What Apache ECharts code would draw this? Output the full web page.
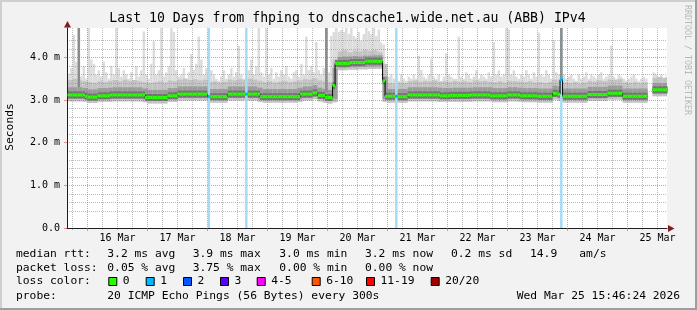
<!DOCTYPE html>
<html><head><meta charset="utf-8">
<script src="https://cdn.jsdelivr.net/npm/echarts@6/dist/echarts.min.js"></script>
<style>html,body{margin:0;padding:0;background:#f2f2f2}#c{width:697px;height:310px}</style>
</head><body><div id="c"></div>
<script>
// ---------------- data ----------------
const titleText = 'Last 10 Days from fhping to dnscache1.wide.net.au (ABB) IPv4';
const axisStartHour = 15.773333;   // hours since Mar 15 00:00 -> Mar 15 15:46:24
const axisEndHour = 255.773333;    // Mar 25 15:46:24
const yMax = 4.69;                 // ms
const firstHour = 16;              // first hourly sample (Mar 15 16:00)
const dayLabels = ['16 Mar','17 Mar','18 Mar','19 Mar','20 Mar','21 Mar','22 Mar','23 Mar','24 Mar','25 Mar'];
const dayLabelHours = [36,60,84,108,132,156,180,204,228,252];
const midnightHours = [24,48,72,96,120,144,168,192,216,240];
const sixHourTicks = [18,30,36,42,54,60,66,78,84,90,102,108,114,126,132,138,150,156,162,174,180,186,198,204,210,222,228,234,246,252];
const yMinorTicks = [0.2,0.4,0.6,0.8,1.2,1.4,1.6,1.8,2.2,2.4,2.6,2.8,3.2,3.4,3.6,3.8,4.2,4.4,4.6];

// hourly median rtt (ms)
const median = [
3.12,3.12,3.12,3.12,3.12,3.12,3.12,3.09,3.07,3.07,
3.07,3.07,3.10,3.10,3.10,3.10,3.10,3.12,3.12,3.12,
3.12,3.12,3.12,3.12,3.12,3.12,3.12,3.12,3.12,3.12,
3.12,3.06,3.06,3.06,3.06,3.06,3.06,3.06,3.06,3.06,
3.10,3.10,3.10,3.10,3.14,3.14,3.14,3.14,3.14,3.14,
3.14,3.14,3.14,3.14,3.14,3.14,3.08,3.08,3.08,3.08,
3.08,3.08,3.08,3.08,3.14,3.14,3.14,3.14,3.14,3.14,
3.14,3.14,3.14,3.14,3.14,3.14,3.14,3.08,3.08,3.08,
3.08,3.08,3.08,3.08,3.08,3.08,3.08,3.08,3.08,3.08,
3.08,3.08,3.08,3.14,3.14,3.14,3.14,3.14,3.17,3.17,
3.11,3.11,3.11,3.06,3.06,3.06,3.34,3.86,3.86,3.86,
3.86,3.86,3.86,3.88,3.88,3.88,3.88,3.88,3.88,3.91,
3.91,3.91,3.91,3.91,3.91,3.91,3.45,3.09,3.09,3.09,
3.09,3.09,3.08,3.08,3.08,3.08,3.12,3.12,3.12,3.12,
3.12,3.12,3.12,3.12,3.12,3.12,3.12,3.12,3.12,3.10,
3.10,3.10,3.10,3.11,3.11,3.11,3.11,3.11,3.11,3.11,
3.11,3.12,3.12,3.12,3.12,3.12,3.12,3.12,3.12,3.10,
3.10,3.10,3.10,3.10,3.10,3.10,3.12,3.12,3.12,3.12,
3.12,3.10,3.10,3.10,3.10,3.10,3.10,3.10,3.09,3.09,
3.09,3.09,3.09,3.09,3.16,3.16,3.14,3.48,3.09,3.09,
3.09,3.09,3.09,3.09,3.09,3.09,3.09,3.09,3.13,3.13,
3.13,3.13,3.13,3.13,3.13,3.13,3.16,3.16,3.16,3.16,
3.16,3.16,3.09,3.09,3.09,3.09,3.09,3.09,3.09,3.09,
3.09,3.09,null,null,3.24,3.24,3.24,3.24,3.24,3.24
];
// hourly slowest ping (ms)
const pingMax = [
3.62,3.75,4.53,3.90,4.69,3.55,3.80,3.50,4.69,3.95,
3.85,3.60,3.70,3.55,3.90,3.65,3.50,3.80,3.60,4.69,
3.75,3.55,3.70,3.60,3.50,3.65,3.45,3.80,3.55,3.70,
4.61,3.60,3.50,3.85,4.38,3.60,3.70,4.69,3.55,3.65,
3.80,4.69,4.60,3.70,3.55,3.60,3.75,3.50,3.65,4.08,
3.70,3.85,4.49,3.95,3.60,3.75,3.55,3.70,3.60,3.50,
3.45,3.55,3.70,3.50,3.60,3.75,3.55,3.65,4.27,3.60,
3.50,3.55,3.70,3.95,3.60,3.80,4.69,3.65,3.55,4.69,
3.60,3.75,3.50,3.65,3.55,3.70,3.60,3.80,3.55,3.50,
3.65,3.70,3.55,3.85,3.60,4.49,3.70,3.80,3.65,4.36,
3.70,3.60,3.75,4.69,3.65,4.50,4.60,4.69,4.60,4.65,
4.60,4.69,4.55,4.69,4.50,4.45,4.60,4.40,4.55,4.69,
4.62,4.55,4.69,4.50,4.66,4.35,4.30,3.70,3.55,3.60,
3.50,3.55,3.45,3.60,3.50,3.45,3.55,3.50,3.60,3.50,
4.04,3.70,3.55,3.50,3.60,3.96,3.55,3.50,3.60,3.45,
3.55,4.10,3.60,3.55,3.50,3.50,4.49,3.55,3.50,3.65,
3.60,3.50,3.55,3.70,3.50,3.60,3.55,3.50,3.65,3.55,
4.36,3.60,3.70,3.55,3.60,4.69,4.66,3.60,3.70,3.55,
3.50,3.60,3.55,3.70,3.60,3.50,3.65,3.55,4.58,3.60,
3.55,3.70,3.60,3.50,4.40,3.65,3.60,4.69,3.60,3.50,
3.55,3.60,3.50,3.45,3.60,3.50,3.55,3.65,3.50,3.60,
3.55,3.50,3.60,3.65,3.50,3.55,3.60,4.28,3.55,3.50,
3.60,3.55,3.50,3.45,3.50,3.55,3.60,3.50,3.45,3.50,
3.55,3.50,null,null,3.65,3.60,3.55,3.60,3.50,3.55
];
// 2-hourly smoke quantiles (ms)
const pingMin = [
2.97,2.97,2.97,2.96,2.93,2.93,2.96,2.96,2.96,2.97,
2.97,2.97,2.97,2.97,2.97,2.95,2.92,2.92,2.92,2.92,
2.96,2.96,2.99,2.99,2.99,2.99,2.99,2.99,2.94,2.94,
2.94,2.94,2.99,2.99,2.99,2.99,2.99,2.99,2.96,2.94,
2.94,2.94,2.94,2.94,2.94,2.94,2.96,2.99,2.99,3.02,
2.97,2.94,2.92,2.95,3.70,3.70,3.71,3.71,3.72,3.72,
3.73,3.73,3.73,2.96,2.94,2.94,2.94,2.94,2.97,2.97,
2.97,2.97,2.97,2.97,2.96,2.96,2.96,2.96,2.96,2.96,
2.96,2.97,2.97,2.97,2.97,2.95,2.95,2.95,2.97,2.97,
2.96,2.95,2.95,2.95,2.94,2.94,2.94,3.01,2.98,2.94,
2.94,2.94,2.94,2.94,2.98,2.98,2.98,2.98,3.01,3.01,
3.01,2.94,2.94,2.94,2.94,2.94,null,3.09,3.09,3.09
];
const pingLow = [
3.03,3.03,3.03,3.02,2.99,2.99,3.02,3.02,3.02,3.03,
3.03,3.03,3.03,3.03,3.03,3.01,2.98,2.98,2.98,2.98,
3.02,3.02,3.05,3.05,3.05,3.05,3.05,3.05,3.00,3.00,
3.00,3.00,3.05,3.05,3.05,3.05,3.05,3.05,3.02,3.00,
3.00,3.00,3.00,3.00,3.00,3.00,3.02,3.05,3.05,3.08,
3.03,3.00,2.98,3.02,3.76,3.76,3.77,3.77,3.78,3.78,
3.79,3.79,3.79,3.02,3.00,3.00,3.00,3.00,3.03,3.03,
3.03,3.03,3.03,3.03,3.02,3.02,3.02,3.02,3.02,3.02,
3.02,3.03,3.03,3.03,3.03,3.01,3.01,3.01,3.03,3.03,
3.02,3.01,3.01,3.01,3.00,3.00,3.00,3.07,3.04,3.00,
3.00,3.00,3.00,3.00,3.04,3.04,3.04,3.04,3.07,3.07,
3.07,3.00,3.00,3.00,3.00,3.00,null,3.15,3.15,3.15
];
const pingHigh = [
3.30,3.30,3.30,3.28,3.25,3.25,3.28,3.28,3.29,3.30,
3.30,3.30,3.30,3.30,3.30,3.27,3.24,3.24,3.24,3.24,
3.28,3.28,3.32,3.32,3.32,3.32,3.32,3.32,3.26,3.26,
3.26,3.26,3.32,3.32,3.32,3.32,3.32,3.32,3.29,3.26,
3.26,3.26,3.26,3.26,3.26,3.26,3.29,3.32,3.32,3.35,
3.29,3.26,3.24,3.75,4.01,4.02,4.02,4.03,4.02,4.04,
4.04,4.05,4.05,3.55,3.26,3.26,3.26,3.26,3.30,3.30,
3.30,3.30,3.30,3.30,3.29,3.28,3.28,3.29,3.29,3.29,
3.29,3.30,3.30,3.30,3.30,3.28,3.28,3.28,3.30,3.30,
3.29,3.28,3.28,3.28,3.27,3.27,3.27,3.34,3.32,3.27,
3.27,3.27,3.27,3.27,3.31,3.31,3.31,3.31,3.34,3.34,
3.34,3.27,3.27,3.27,3.27,3.27,null,3.40,3.40,3.40
];
const pingUpper = [
3.47,3.50,3.46,3.44,3.42,3.40,3.44,3.42,3.45,3.47,
3.44,3.48,3.45,3.47,3.44,3.42,3.40,3.42,3.44,3.41,
3.46,3.44,3.48,3.50,3.47,3.49,3.46,3.48,3.42,3.44,
3.41,3.43,3.48,3.46,3.49,3.47,3.50,3.48,3.45,3.42,
3.44,3.41,3.43,3.45,3.42,3.44,3.46,3.49,3.48,3.51,
3.46,3.44,3.42,3.95,4.14,4.17,4.12,4.16,4.14,4.18,
4.15,4.17,4.12,3.85,3.40,3.39,3.41,3.40,3.44,3.46,
3.43,3.45,3.44,3.46,3.43,3.44,3.42,3.45,3.43,3.44,
3.42,3.46,3.44,3.45,3.43,3.42,3.44,3.41,3.45,3.44,
3.43,3.42,3.44,3.41,3.42,3.40,3.42,3.48,3.46,3.41,
3.40,3.42,3.39,3.41,3.45,3.43,3.46,3.44,3.48,3.47,
3.49,3.41,3.40,3.42,3.39,3.41,null,3.52,3.54,3.52
];
// hours where most pings were slow (dense smoke column)
const denseHours = [20, 119, 213];
const denseBottom = [3.30, 3.20, 3.50];
const denseTop = [4.69, 4.69, 4.69];
// hours with packet loss and number of lost pings (of 20)
const lossHours = [72, 87, 147, 213];
const lossCounts = [1, 1, 1, 1];

const rttStats = ['3.2 ms avg','3.9 ms max','3.0 ms min','3.2 ms now','0.2 ms sd','14.9','am/s'];
const lossStats = ['0.05 % avg','3.75 % max','0.00 % min','0.00 % now'];
const lossLegend = ['0','1','2','3','4-5','6-10','11-19','20/20'];
const probeText = '20 ICMP Echo Pings (56 Bytes) every 300s';
const stampText = 'Wed Mar 25 15:46:24 2026';

// ---------------- rendering ----------------
const MONO = '"DejaVu Sans Mono", monospace';
const lossPalette = ['#26ff00','#00b8ff','#0059ff','#5e00ff','#ff00ff','#ff5500','#ff0000','#a00000'];
function lossColor(n){
  if (n <= 0) return lossPalette[0];
  if (n === 1) return lossPalette[1];
  if (n === 2) return lossPalette[2];
  if (n === 3) return lossPalette[3];
  if (n <= 5) return lossPalette[4];
  if (n <= 10) return lossPalette[5];
  if (n <= 19) return lossPalette[6];
  return lossPalette[7];
}
function clipRect(params, api, h0, h1, lo, hi){
  const cs = params.coordSys;
  const a = api.coord([h0, hi]), b = api.coord([h1, lo]);
  const x0 = Math.max(a[0], cs.x), x1 = Math.min(b[0], cs.x + cs.width);
  const y0 = Math.max(a[1], cs.y), y1 = Math.min(b[1], cs.y + cs.height);
  if (!(x1 > x0) || !(y1 > y0)) return null;
  return {x:x0, y:y0, width:x1-x0, height:y1-y0};
}
function bandSeries(name, data, widthH, color, z){
  return {
    name, type:'custom', z, data, encode:{x:0, y:[1,2]},
    renderItem(params, api){
      const h = api.value(0), lo = api.value(1), hi = api.value(2);
      const r = clipRect(params, api, h, h + widthH, lo, hi);
      if (!r) return null;
      return {type:'rect', shape:r, style:{fill:color}};
    }
  };
}
const hourly = [], twoHourly = [], coreData = [], greenData = [], lineData = [];
pingMax.forEach((v, i) => {
  const k = Math.floor(i / 2);
  if (v != null && pingMin[k] != null) hourly.push([firstHour + i, pingMin[k], v]);
});
pingMin.forEach((v, k) => {
  if (v != null) twoHourly.push([firstHour + 2*k, v, pingUpper[k], pingLow[k], pingHigh[k]]);
});
median.forEach((v, i) => {
  const h = firstHour + i;
  const li = lossHours.indexOf(h);
  const loss = li >= 0 ? lossCounts[li] : 0;
  lineData.push([h, v == null ? '-' : v]);
  if (v != null) { coreData.push([h, v]); greenData.push([h, v, loss]); }
});
lineData.push([firstHour + median.length, median[median.length - 1]]);
const midData = twoHourly.map(d => [d[0], d[1], d[2]]);
const darkData = twoHourly.map(d => [d[0], d[3], d[4]]);
const denseData = denseHours.map((h, j) => [h, denseBottom[j], denseTop[j]]);
const lossData = lossHours.map((h, j) => [h, 0, yMax, lossCounts[j]]);

const gridRed = 'rgba(222,79,79,0.6)';
const gridGray = 'rgba(143,143,143,0.6)';

const graphics = [
  {type:'rect', shape:{x:0,y:0,width:697,height:2}, style:{fill:'#cfcfcf'}},
  {type:'rect', shape:{x:0,y:0,width:2,height:310}, style:{fill:'#cfcfcf'}},
  {type:'rect', shape:{x:0,y:308,width:697,height:2}, style:{fill:'#9e9e9e'}},
  {type:'rect', shape:{x:695,y:0,width:2,height:310}, style:{fill:'#9e9e9e'}},
  {type:'polygon', shape:{points:[[67.5,21],[64,27.5],[71,27.5]]}, style:{fill:'#7f1f1f'}},
  {type:'polygon', shape:{points:[[674.5,228.5],[668,225],[668,232]]}, style:{fill:'#7f1f1f'}}
];
function txt(x, y, text, size, opts){
  const o = Object.assign({align:'left', color:'#000', rotation:0}, opts || {});
  graphics.push({type:'text', x, y, rotation:o.rotation, z:50,
    style:{text, font: size + 'px ' + MONO, fill:o.color, align:o.align, textAlign:o.align, verticalAlign:'middle', textVerticalAlign:'middle'}});
}
txt(347.5, 18.5, titleText, 13.2, {align:'center'});
txt(10, 127, 'Seconds', 11.3, {align:'center', rotation:Math.PI/2});
txt(687, 5, 'RRDTOOL / TOBI OETIKER', 8.3, {color:'#b8b8b8', rotation:-Math.PI/2});
const colX = [107.3, 192.7, 279.3, 365, 451, 530, 579.3];
txt(16, 254, 'median rtt:', 11.3);
rttStats.forEach((s, j) => txt(colX[j], 254, s, 11.3));
txt(16, 268, 'packet loss:', 11.3);
lossStats.forEach((s, j) => txt(colX[j], 268, s, 11.3));
txt(16, 281.5, 'loss color:', 11.3);
const boxX = [108.3, 145.7, 183, 220, 256.7, 311.7, 366, 430.7];
lossLegend.forEach((s, j) => {
  graphics.push({type:'rect', shape:{x:boxX[j]+0.5, y:277.5, width:8, height:8}, style:{fill:lossPalette[j], stroke:'#000', lineWidth:1}});
  txt(boxX[j] + 14.5, 281.5, s, 11.3);
});
txt(16, 296, 'probe:', 11.3);
txt(107.3, 296, probeText, 11.3);
txt(680, 296, stampText, 11.3, {align:'right'});

const option = {
  animation: false,
  backgroundColor: '#f2f2f2',
  grid: {left:67, top:28, width:600, height:200, show:true, backgroundColor:'#ffffff', borderWidth:0, containLabel:false, outerBoundsMode:'none'},
  xAxis: [
    {type:'value', min:axisStartHour, max:axisEndHour, z:3,
     axisLine:{show:true, lineStyle:{color:'#1f1f1f', width:1}},
     axisTick:{show:true, customValues:midnightHours, length:3, lineStyle:{color:gridRed}},
     axisLabel:{show:true, customValues:dayLabelHours, hideOverlap:false, margin:5, fontFamily:MONO, fontSize:10, color:'#000',
       formatter:(v)=>{ const j = dayLabelHours.findIndex(h => Math.abs(h - v) < 0.01); return j >= 0 ? dayLabels[j] : ''; }},
     splitLine:{show:true, lineStyle:{color:gridRed, type:[1,1], width:1}}},
    {type:'value', min:axisStartHour, max:axisEndHour, z:2, position:'bottom',
     axisLine:{show:false}, axisLabel:{show:false},
     axisTick:{show:true, customValues:sixHourTicks, length:2, lineStyle:{color:gridGray}},
     splitLine:{show:true, lineStyle:{color:gridGray, type:[1,1], width:1}}}
  ],
  yAxis: [
    {type:'value', min:0, max:yMax, interval:1, z:3,
     axisLine:{show:true, lineStyle:{color:'#1f1f1f', width:1}},
     axisTick:{show:true, length:3, lineStyle:{color:gridRed}},
     axisLabel:{margin:7, fontFamily:MONO, fontSize:10, color:'#000', hideOverlap:false, showMaxLabel:false,
       formatter:(v)=> Math.abs(v - Math.round(v)) > 1e-6 ? '' : (v === 0 ? '0.0' : v.toFixed(1) + ' m')},
     splitLine:{show:true, showMaxLine:false, lineStyle:{color:gridRed, type:[1,1], width:1}}},
    {type:'value', min:0, max:yMax, z:2, position:'left',
     axisLine:{show:false}, axisTick:{show:false, customValues:yMinorTicks}, axisLabel:{show:false},
     splitLine:{show:true, showMaxLine:false, showMinLine:false, lineStyle:{color:gridGray, type:[1,1], width:1}}}
  ],
  series: [
    bandSeries('smoke max', hourly, 1, '#dcdcdc', 1),
    bandSeries('smoke mid', midData, 2, '#c3c3c3', 1),
    bandSeries('smoke core', darkData, 2, '#9c9c9c', 1),
    {name:'median core', type:'custom', z:2, data:coreData, encode:{x:0, y:1},
     renderItem(params, api){
       const h = api.value(0), v = api.value(1);
       const a = api.coord([h, v]), b = api.coord([h + 1, v]);
       return {type:'rect', shape:{x:a[0], y:a[1]-3.5, width:b[0]-a[0], height:7}, style:{fill:'#737373'}};
     }},
    {name:'loss', type:'custom', z:4, data:lossData, encode:{x:0, y:[1,2]},
     renderItem(params, api){
       const h = api.value(0);
       const r = clipRect(params, api, h, h + 1, api.value(1), api.value(2));
       if (!r) return null;
       return {type:'rect', shape:r, style:{fill:'#a6dcf3'}};
     }},
    bandSeries('dense', denseData, 1, '#8c8c8c', 4),
    {name:'median step', type:'line', z:5, data:lineData, step:'end', symbol:'none', xAxisIndex:0, yAxisIndex:0,
     lineStyle:{color:'#000', width:1}, connectNulls:false},
    {name:'median', type:'custom', z:6, data:greenData, encode:{x:0, y:1},
     renderItem(params, api){
       const h = api.value(0), v = api.value(1), n = api.value(2);
       const a = api.coord([h, v]), b = api.coord([h + 1, v]);
       return {type:'rect', shape:{x:a[0], y:a[1]-1.5, width:b[0]-a[0], height:3}, style:{fill:lossColor(n)}};
     }}
  ],
  graphic: graphics
};
const chart = echarts.init(document.getElementById('c'), null, {renderer:'canvas', width:697, height:310});
chart.setOption(option);
</script></body></html>
